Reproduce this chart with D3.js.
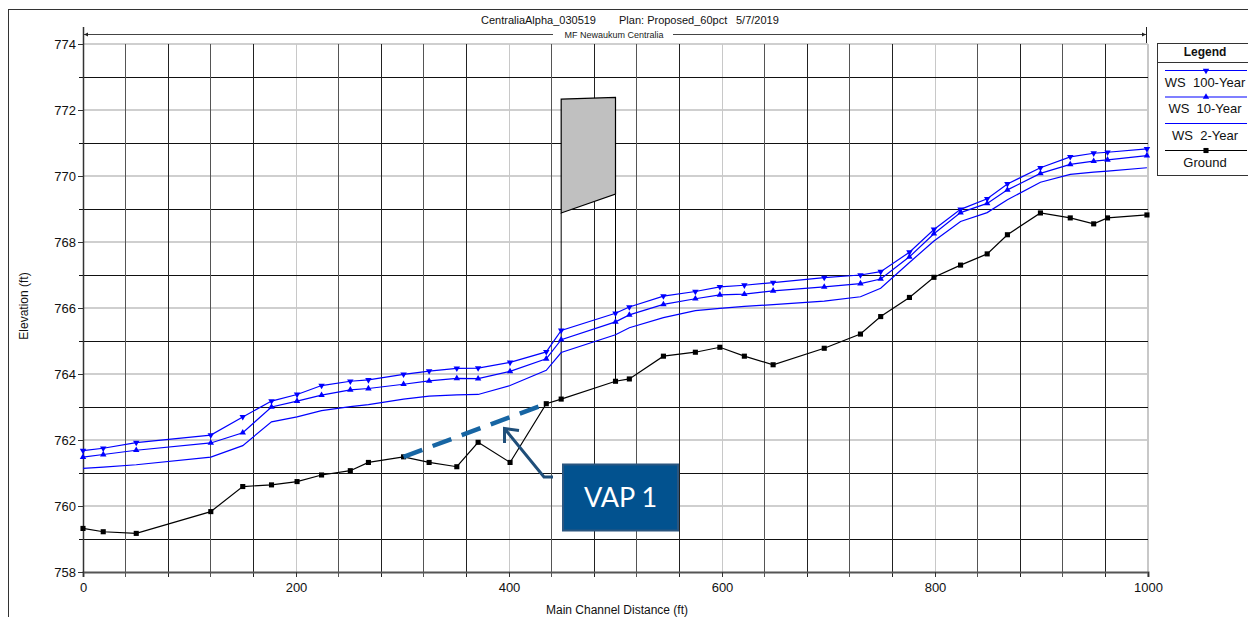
<!DOCTYPE html>
<html lang="en">
<head>
<meta charset="UTF-8">
<title>MF Newaukum Centralia profile</title>
<script src="https://cdn.jsdelivr.net/npm/d3@7"></script>
<style>
  body { margin: 0; background: #fff; }
  svg { display: block; font-family: "Liberation Sans", Arial, sans-serif; }
</style>
</head>
<body>
<div id="chart"></div>
<script>
// stations along the main channel (ft)
const stations = [0, 19, 50, 120, 150, 177, 201, 224, 251, 268, 301, 325, 351, 371, 401, 435, 449, 500,
  513, 545, 575, 598, 621, 648, 696, 730, 749, 776, 799, 824, 849, 868, 899, 927, 949, 962, 999];

const ws100 = [761.68, 761.75, 761.92, 762.15, 762.70, 763.18, 763.38, 763.65, 763.78, 763.82, 763.99, 764.09,
  764.17, 764.18, 764.35, 764.67, 765.32, 765.84, 766.03, 766.36, 766.50, 766.64, 766.69, 766.77, 766.92,
  767.00, 767.10, 767.69, 768.38, 768.99, 769.31, 769.76, 770.25, 770.58, 770.69, 770.72, 770.82];

const ws10 = [761.48, 761.56, 761.69, 761.91, 762.22, 763.00, 763.18, 763.36, 763.52, 763.56, 763.69, 763.79,
  763.87, 763.86, 764.08, 764.46, 765.04, 765.58, 765.79, 766.11, 766.28, 766.40, 766.42, 766.52, 766.64,
  766.74, 766.88, 767.55, 768.25, 768.89, 769.17, 769.58, 770.08, 770.35, 770.45, 770.49, 770.62];

const ws2 = [761.14, 761.18, 761.25, 761.48, 761.83, 762.55, 762.70, 762.89, 763.01, 763.07, 763.24, 763.33,
  763.37, 763.38, 763.65, 764.11, 764.65, 765.19, 765.40, 765.71, 765.92, 765.99, 766.05, 766.10, 766.21,
  766.34, 766.60, 767.38, 768.03, 768.62, 768.89, 769.28, 769.81, 770.05, 770.12, 770.15, 770.25];

const ground = [759.32, 759.22, 759.17, 759.83, 760.59, 760.64, 760.74, 760.94, 761.07, 761.32, 761.49, 761.32,
  761.19, 761.93, 761.32, 763.10, 763.24, 763.78, 763.85, 764.54, 764.66, 764.81, 764.54, 764.28, 764.78,
  765.21, 765.74, 766.32, 766.93, 767.30, 767.64, 768.22, 768.88, 768.73, 768.55, 768.73, 768.82];

// bridge deck: [station, high chord, low chord]
const bridge = [[449, 772.33, 768.88], [500, 772.38, 769.45]];

// VAP 1 dashed line between two ground stations
const vapLine = [[301, 761.49], [435, 763.10]];

const xTicks = [0, 200, 400, 600, 800, 1000];
const yTicks = [758, 760, 762, 764, 766, 768, 770, 772, 774];

const titleParts = ["CentraliaAlpha_030519", "Plan: Proposed_60pct", "5/7/2019"];
const reachName = "MF Newaukum Centralia";

const series = [
  { name: "WS  100-Year", values: ws100, color: "#0000ff", marker: "down" },
  { name: "WS  10-Year", values: ws10, color: "#0000ff", marker: "up" },
  { name: "WS  2-Year", values: ws2, color: "#0000ff", marker: null },
  { name: "Ground", values: ground, color: "#000000", marker: "square" }
];

const W = 1248, H = 617;
const x = d3.scaleLinear().domain([0, 1000]).range([83, 1148]);
const y = d3.scaleLinear().domain([758, 774]).range([572, 44]);

const svg = d3.select("#chart").append("svg").attr("width", W).attr("height", H);

// outer frame
svg.append("rect").attr("x", 8.5).attr("y", 9.5).attr("width", 1300).attr("height", 700)
  .attr("fill", "none").attr("stroke", "#333");

// title
const titleX = [481, 619, 736];
svg.append("g").selectAll("text").data(titleParts).join("text")
  .attr("x", (d, i) => titleX[i]).attr("y", 24)
  .attr("font-size", 11).attr("fill", "#111").text(d => d);

// reach line with arrows
const hdr = svg.append("g");
hdr.append("line").attr("x1", x(0)).attr("x2", x(1000) - 1).attr("y1", 34.5).attr("y2", 34.5)
  .attr("stroke", "#444");
hdr.append("line").attr("x1", x(1000) - 1.5).attr("x2", x(1000) - 1.5).attr("y1", 27).attr("y2", 44)
  .attr("stroke", "#222");
hdr.append("path").attr("d", `M${x(0) + 1},34.5 l4,-2 v4 z`).attr("fill", "#222");
hdr.append("path").attr("d", `M${x(1000) - 2},34.5 l-4,-2 v4 z`).attr("fill", "#222");
hdr.append("rect").attr("x", 553).attr("y", 29).attr("width", 120).attr("height", 11).attr("fill", "#fff");
hdr.append("text").attr("x", 614).attr("y", 38).attr("text-anchor", "middle")
  .attr("font-size", 9).attr("fill", "#222").text(reachName);

// grid
const grid = svg.append("g").attr("shape-rendering", "crispEdges");
const isMajorX = v => v % 200 === 0;
const xMinor = d3.range(40, 1000, 40).filter(v => !isMajorX(v));
const yMinor = d3.range(759, 774, 2);

grid.selectAll(".hmaj").data(yTicks.slice(1)).join("line")
  .attr("x1", x(0)).attr("x2", x(1000)).attr("y1", d => y(d)).attr("y2", d => y(d))
  .attr("stroke", "#cfcfcf").attr("stroke-width", 2);
grid.selectAll(".vmaj").data(xTicks.slice(1)).join("line")
  .attr("x1", d => x(d)).attr("x2", d => x(d)).attr("y1", y(774)).attr("y2", y(758) + 5)
  .attr("stroke", "#c8c8c8").attr("stroke-width", d => d === 1000 ? 2 : 1);
grid.selectAll(".hmin").data(yMinor).join("line")
  .attr("x1", x(0) - 4).attr("x2", x(1000)).attr("y1", d => y(d)).attr("y2", d => y(d))
  .attr("stroke", "#111");
grid.selectAll(".vmin").data(xMinor).join("line")
  .attr("x1", d => x(d)).attr("x2", d => x(d)).attr("y1", y(774)).attr("y2", y(758) + 5)
  .attr("stroke", (d, i) => i % 2 ? "#222" : "#555");

// axes
const xAxis = d3.axisBottom(x).tickValues(xTicks).tickFormat(d3.format("d")).tickSize(5).tickPadding(6);
const gx = svg.append("g").attr("transform", `translate(0,${y(758)})`).call(xAxis);
gx.select(".domain").attr("stroke", "#555").attr("stroke-width", 2);
gx.selectAll(".tick line").attr("stroke", "#333");
gx.selectAll("text").attr("font-size", 13).attr("fill", "#111").attr("font-family", "Liberation Sans, Arial");

const yAxis = d3.axisLeft(y).tickValues(yTicks).tickSize(5).tickPadding(2);
const gy = svg.append("g").attr("transform", `translate(${x(0)},0)`).call(yAxis);
gy.select(".domain").remove();
gy.selectAll(".tick line").attr("stroke", "#333");
gy.selectAll("text").attr("font-size", 13).attr("fill", "#111").attr("font-family", "Liberation Sans, Arial");
svg.append("line").attr("x1", x(0) + 0.5).attr("x2", x(0) + 0.5).attr("y1", 27).attr("y2", y(758))
  .attr("stroke", "#333").attr("stroke-width", 1.5);

svg.append("text").attr("x", 617).attr("y", 614).attr("text-anchor", "middle")
  .attr("font-size", 12).attr("fill", "#111").text("Main Channel Distance (ft)");
svg.append("text").attr("transform", "translate(28,306) rotate(-90)").attr("text-anchor", "middle")
  .attr("font-size", 12).attr("fill", "#111").text("Elevation (ft)");

// bridge
const groundAt = s => ground[stations.indexOf(s)];
svg.append("g").selectAll("line").data(bridge).join("line")
  .attr("x1", d => x(d[0])).attr("x2", d => x(d[0]))
  .attr("y1", d => y(d[2])).attr("y2", d => y(groundAt(d[0])))
  .attr("stroke", "#000");
const deck = [[bridge[0][0], bridge[0][1]], [bridge[1][0], bridge[1][1]], [bridge[1][0], bridge[1][2]], [bridge[0][0], bridge[0][2]]];
svg.append("path")
  .attr("d", "M" + deck.map(p => [x(p[0]), y(p[1])].join(",")).join("L") + "Z")
  .attr("fill", "#c0c0c0").attr("stroke", "#000").attr("stroke-width", 1.2);

// series
const line = d3.line().x(d => x(d[0])).y(d => y(d[1]));
const tri = d3.symbol().type(d3.symbolTriangle).size(18);
const sq = d3.symbol().type(d3.symbolSquare).size(26);
const markerPath = m => m === "square" ? sq() : tri();
const markerRot = m => m === "down" ? " rotate(180)" : "";

series.forEach(s => {
  const pts = stations.map((st, i) => [st, s.values[i]]);
  svg.append("path").datum(pts).attr("d", line)
    .attr("fill", "none").attr("stroke", s.color).attr("stroke-width", 1.2);
  if (s.marker) {
    svg.append("g").selectAll("path").data(pts).join("path")
      .attr("d", markerPath(s.marker))
      .attr("transform", d => `translate(${x(d[0])},${y(d[1])})${markerRot(s.marker)}`)
      .attr("fill", s.color);
  }
});

// VAP 1 annotation
svg.append("path").datum(vapLine).attr("d", line)
  .attr("fill", "none").attr("stroke", "#1765a3").attr("stroke-width", 4.5)
  .attr("stroke-dasharray", "20,11");

svg.append("path").attr("d", "M553,477 L544,477 L504.5,428.5 M519,430.5 L504.5,428.5 L504.5,443")
  .attr("fill", "none").attr("stroke", "#1f4e79").attr("stroke-width", 3)
  .attr("stroke-linejoin", "miter");
svg.append("rect").attr("x", 563).attr("y", 464.5).attr("width", 115).attr("height", 66)
  .attr("fill", "#02528f").attr("stroke", "#2b5680").attr("stroke-width", 2);
svg.append("text").attr("x", 620.5).attr("y", 507).attr("text-anchor", "middle")
  .attr("font-family", "Lato, 'Open Sans', sans-serif").attr("font-size", 27).attr("fill", "#fff")
  .text("VAP 1");

// legend
const lg = svg.append("g");
lg.append("rect").attr("x", 1157.5).attr("y", 43.5).attr("width", 100).attr("height", 132)
  .attr("fill", "#fff").attr("stroke", "#333");
lg.append("text").attr("x", 1205).attr("y", 56).attr("text-anchor", "middle")
  .attr("font-size", 12).attr("font-weight", "bold").attr("fill", "#111").text("Legend");
lg.append("line").attr("x1", 1157.5).attr("x2", 1258).attr("y1", 62.5).attr("y2", 62.5).attr("stroke", "#333");
const lgY = [70.5, 97, 123.5, 150.5];
series.forEach((s, i) => {
  const g = lg.append("g");
  g.append("line").attr("x1", 1165).attr("x2", 1247).attr("y1", lgY[i]).attr("y2", lgY[i])
    .attr("stroke", s.color).attr("stroke-width", 1.2);
  if (s.marker) {
    g.append("path").attr("d", markerPath(s.marker))
      .attr("transform", `translate(1206,${lgY[i]})${markerRot(s.marker)}`).attr("fill", s.color);
  }
  g.append("text").attr("x", 1205).attr("y", lgY[i] + 16).attr("text-anchor", "middle")
    .attr("font-size", 13).attr("fill", "#111").text(s.name).attr("xml:space", "preserve")
    .style("white-space", "pre");
});
</script>
</body>
</html>
